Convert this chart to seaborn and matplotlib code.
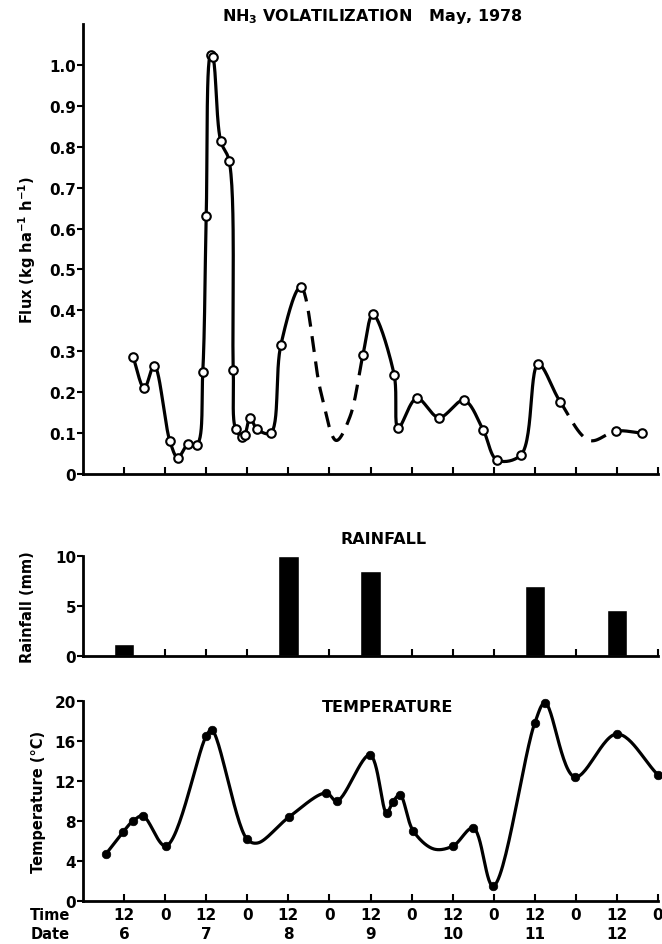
# NH3 volatilization, rainfall and temperature, May 1978

import numpy as np
import matplotlib
matplotlib.use("Agg")
import matplotlib.pyplot as plt
import seaborn as sns

# hours counted from 00:00 on May 6
flux_hours = [14.6, 17.9, 20.8, 25.4, 27.7, 30.7, 33.3, 35.0, 36.0, 37.3, 37.9, 40.2,
              42.7, 43.9, 44.6, 46.6, 47.3, 48.8, 50.8, 54.8, 57.8, 63.6, 81.8, 84.7,
              90.9, 92.1, 97.5, 104.0, 111.3, 116.9, 121.0, 128.0, 133.0, 139.4, 155.7, 163.3]
flux_vals = [0.287, 0.21, 0.265, 0.08, 0.04, 0.073, 0.072, 0.25, 0.63, 1.025, 1.02, 0.815,
             0.765, 0.255, 0.11, 0.09, 0.095, 0.138, 0.11, 0.10, 0.315, 0.457, 0.292, 0.39,
             0.243, 0.113, 0.185, 0.138, 0.18, 0.108, 0.034, 0.047, 0.268, 0.177, 0.105, 0.10]
# unmarked low points of the dashed parts of the curve
flux_gap_hours = [69.5, 74.0, 78.0, 148.0]
flux_gap_vals = [0.20, 0.082, 0.14, 0.082]
# dashed stretches (no measurements)
flux_dashed = [(63.6, 81.8), (139.4, 155.7)]

rain_hours = [12, 60, 84, 132, 156]
rain_mm = [1.2, 10.0, 8.5, 7.0, 4.6]

temp_hours = [6.7, 11.7, 14.6, 17.5, 24.2, 36.0, 37.6, 47.9, 60.2, 71.0, 74.2, 83.8,
              88.7, 90.5, 92.6, 96.5, 108.1, 114.0, 119.8, 132.0, 135.0, 143.7, 156.0, 168.0]
temp_vals = [4.7, 6.9, 8.0, 8.5, 5.5, 16.5, 17.1, 6.2, 8.4, 10.8, 10.0, 14.6,
             8.8, 9.9, 10.6, 7.0, 5.5, 7.3, 1.5, 17.8, 19.8, 12.4, 16.7, 12.6]
temp_gap_hours = [51.0, 102.5]
temp_gap_vals = [5.8, 5.2]

time_ticks = list(range(12, 169, 12))
time_labels = ["12", "0"] * 7
date_hours = [12, 36, 60, 84, 108, 132, 156]
date_labels = ["6", "7", "8", "9", "10", "11", "12"]


def smooth(xs, ys, yscale, n=30):
    """centripetal Catmull-Rom through the points"""
    order = np.argsort(xs)
    p = np.column_stack([np.asarray(xs, float)[order], np.asarray(ys, float)[order] * yscale])
    p = np.vstack([2 * p[0] - p[1], p, 2 * p[-1] - p[-2]])
    out = []
    for i in range(1, len(p) - 2):
        p0, p1, p2, p3 = p[i - 1], p[i], p[i + 1], p[i + 2]
        t0 = 0.0
        t1 = t0 + np.linalg.norm(p1 - p0) ** 0.5 + 1e-9
        t2 = t1 + np.linalg.norm(p2 - p1) ** 0.5 + 1e-9
        t3 = t2 + np.linalg.norm(p3 - p2) ** 0.5 + 1e-9
        t = np.linspace(t1, t2, n)[:, None]
        a1 = (t1 - t) / (t1 - t0) * p0 + (t - t0) / (t1 - t0) * p1
        a2 = (t2 - t) / (t2 - t1) * p1 + (t - t1) / (t2 - t1) * p2
        a3 = (t3 - t) / (t3 - t2) * p2 + (t - t2) / (t3 - t2) * p3
        b1 = (t2 - t) / (t2 - t0) * a1 + (t - t0) / (t2 - t0) * a2
        b2 = (t3 - t) / (t3 - t1) * a2 + (t - t1) / (t3 - t1) * a3
        c = (t2 - t) / (t2 - t1) * b1 + (t - t1) / (t2 - t1) * b2
        out.append(c)
    c = np.vstack(out)
    return c[:, 0], c[:, 1] / yscale


sns.set_style("ticks", {"axes.edgecolor": "black", "text.color": "black",
                        "axes.labelcolor": "black", "xtick.color": "black",
                        "ytick.color": "black"})
plt.rcParams["font.family"] = ["DejaVu Sans"]
plt.rcParams["font.weight"] = "bold"
plt.rcParams["mathtext.fontset"] = "dejavusans"
plt.rcParams["mathtext.default"] = "bf"

fig = plt.figure(figsize=(6.62, 9.45), dpi=100)
left, width = 83 / 662, 575 / 662
ax1 = fig.add_axes([left, 1 - 475 / 945, width, 450 / 945])
ax2 = fig.add_axes([left, 1 - 657 / 945, width, 100 / 945])
ax3 = fig.add_axes([left, 1 - 902 / 945, width, 200 / 945])

lw = 2.3
lab_fs = 10.5

# flux curve
cx, cy = smooth(flux_hours + flux_gap_hours, flux_vals + flux_gap_vals, 119.0)
dashed = np.zeros(len(cx), bool)
for a, b in flux_dashed:
    dashed |= (cx >= a) & (cx <= b)
solid_y = np.where(dashed, np.nan, cy)
dash_y = np.where(dashed, cy, np.nan)
ax1.plot(cx, solid_y, color="black", lw=lw)
ax1.plot(cx, dash_y, color="black", lw=lw, dashes=(5, 3))
sns.scatterplot(x=flux_hours, y=flux_vals, ax=ax1, s=38, marker="o",
                facecolor="white", edgecolor="black", linewidth=1.5, zorder=3)
ax1.set_ylim(0, 1.1)
ax1.set_yticks(np.arange(0, 1.01, 0.1))
ax1.set_yticklabels(["0"] + [f"{v:.1f}" for v in np.arange(0.1, 1.01, 0.1)])
ax1.set_ylabel("Flux (kg ha$^{-1}$ h$^{-1}$)", fontsize=lab_fs, fontweight="bold", labelpad=8)

# rainfall bars
ax2.bar(rain_hours, rain_mm, width=6, color="black")
ax2.set_ylim(0, 10)
ax2.set_yticks([0, 5, 10])
ax2.set_ylabel("Rainfall (mm)", fontsize=lab_fs, fontweight="bold", labelpad=14)

# temperature curve
tx, ty = smooth(temp_hours + temp_gap_hours, temp_vals + temp_gap_vals, 2.92)
ax3.plot(tx, ty, color="black", lw=lw, clip_on=False)
sns.scatterplot(x=temp_hours, y=temp_vals, ax=ax3, s=38, color="black",
                edgecolor="black", zorder=3, clip_on=False)
ax3.set_ylim(0, 20)
ax3.set_yticks([0, 4, 8, 12, 16, 20])
ax3.set_ylabel("Temperature (\u00b0C)", fontsize=lab_fs, fontweight="bold", labelpad=6)

for ax in (ax1, ax2, ax3):
    ax.set_xlim(0, 168)
    ax.set_xticks(time_ticks)
    sns.despine(ax=ax)
    ax.spines["left"].set_linewidth(2)
    ax.spines["bottom"].set_linewidth(2)
    ax.tick_params(axis="x", direction="in", length=5, width=1.5, labelbottom=False)
    ax.tick_params(axis="y", direction="out", length=4, width=1.5, labelsize=11, pad=1)
    for t in ax.get_yticklabels():
        t.set_fontweight("bold")

ax3.tick_params(axis="x", labelbottom=True, labelsize=11, pad=4)
ax3.set_xticklabels(time_labels, fontweight="bold")
for h, d in zip(date_hours, date_labels):
    ax3.text(h, -0.165, d, transform=ax3.get_xaxis_transform(), ha="center", va="center",
             fontsize=11, fontweight="bold")

fig.text(50 / 662, 1 - 916 / 945, "Time", ha="center", va="center", fontsize=10.5, fontweight="bold")
fig.text(50 / 662, 1 - 935 / 945, "Date", ha="center", va="center", fontsize=10.5, fontweight="bold")

fig.text(372 / 662, 1 - 17 / 945, "NH$_3$ VOLATILIZATION   May, 1978", ha="center", va="center",
         fontsize=11.5, fontweight="bold")
fig.text(384 / 662, 1 - 539 / 945, "RAINFALL", ha="center", va="center", fontsize=11.5, fontweight="bold")
fig.text(388 / 662, 1 - 708 / 945, "TEMPERATURE", ha="center", va="center", fontsize=11.5, fontweight="bold")

fig.savefig("out.png", dpi=100)
plt.close(fig)
